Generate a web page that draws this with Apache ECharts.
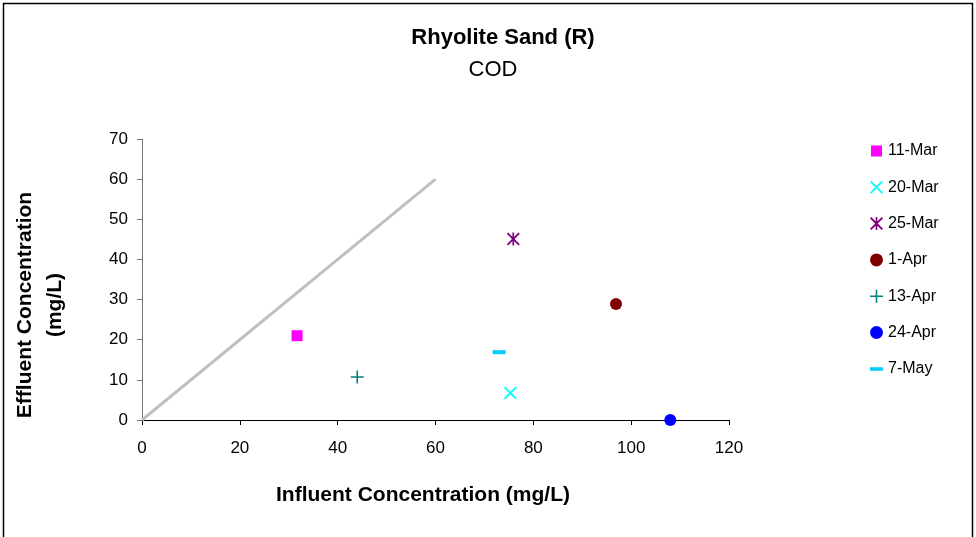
<!DOCTYPE html>
<html><head><meta charset="utf-8">
<script src="https://cdn.jsdelivr.net/npm/echarts@6/dist/echarts.min.js"></script>
<style>html,body{margin:0;padding:0;background:#fff}#c{width:976px;height:537px}</style>
</head><body><div id="c"></div>
<script>
const seriesNames = ['11-Mar','20-Mar','25-Mar','1-Apr','13-Apr','24-Apr','7-May'];
const influent = [31.7, 75.3, 75.9, 96.9, 44.0, 108.0, 73.0];
const effluent = [21.0, 6.7, 45.1, 28.9, 10.7, 0.0, 16.9];
const refLineX = [0, 60];
const refLineY = [0, 60];
const xTicks = [0,20,40,60,80,100,120];
const yTicks = [0,10,20,30,40,50,60,70];

const FONT = '"Liberation Sans", Arial, sans-serif';
const P_X = 'path://M0,1L1,0L5,4L9,0L10,1L6,5L10,9L9,10L5,6L1,10L0,9L4,5Z';
const P_AST = 'path://M0,1L1,0L5,4L9,0L10,1L6,5L10,9L9,10L5,6L1,10L0,9L4,5ZM4.35,0H5.65V10H4.35Z';
const P_PLUS = 'path://M4.4,0H5.6V4.4H10V5.6H5.6V10H4.4V5.6H0V4.4H4.4Z';
const P_SQ = 'path://M0,0L0,0ZM1,1H12V12H1ZM13,13L13,13Z';
const P_DASH = 'path://M0,0L0,0ZM0,5H13V8.5H0ZM13,13L13,13Z';
const styles = [
  {symbol:'rect', size:11, icon:P_SQ, color:'#FF00FF'},
  {symbol:P_X, size:13, icon:P_X, color:'#00FFFF'},
  {symbol:P_AST, size:13, icon:P_AST, color:'#800080'},
  {symbol:'circle', size:12, icon:'circle', color:'#800000'},
  {symbol:P_PLUS, size:13, icon:P_PLUS, color:'#008080'},
  {symbol:'circle', size:12, icon:'circle', color:'#0000FF'},
  {symbol:'rect', size:[13,4], icon:P_DASH, color:'#00CCFF'}
];

const series = [{
  type:'line', name:'ref', data: refLineX.map((x,i)=>[x, refLineY[i]]),
  symbol:'none', lineStyle:{color:'#C0C0C0', width:3}, silent:true, z:1
}];
seriesNames.forEach((n,i)=>{
  series.push({type:'scatter', name:n, data:[[influent[i], effluent[i]]],
    symbol: styles[i].symbol, symbolSize: styles[i].size,
    itemStyle:{color: styles[i].color, opacity:1}, z:3});
});

const chart = echarts.init(document.getElementById('c'));
chart.setOption({
  animation:false,
  backgroundColor:'#fff',
  grid:{left:142, right:247, top:139, bottom:117},
  xAxis:{type:'value', min:0, max:120, interval:20,
    axisLine:{lineStyle:{color:'#000', width:1}},
    axisTick:{show:true, length:5, lineStyle:{color:'#000'}},
    splitLine:{show:false},
    axisLabel:{color:'#000', fontSize:17, fontFamily:FONT, margin:20}},
  yAxis:{type:'value', min:0, max:70, interval:10,
    axisLine:{show:true, lineStyle:{color:'#777', width:1}},
    axisTick:{show:true, length:5, lineStyle:{color:'#777'}},
    splitLine:{show:false},
    axisLabel:{color:'#000', fontSize:17, fontFamily:FONT, margin:14}},
  legend:{orient:'vertical', left:870, top:143, padding:0, itemWidth:13, itemHeight:13, itemGap:20.3, itemTextGap:4,
    data: seriesNames.map((n,i)=>({name:n, icon:styles[i].icon})),
    textStyle:{color:'#000', fontSize:16, fontFamily:FONT}, itemStyle:{opacity:1}},
  graphic:[
    {type:'rect', shape:{x:3.5, y:3.5, width:969, height:600}, style:{fill:'none', stroke:'#000', lineWidth:1.5}, z:-1},
    {type:'text', x:503, y:38, style:{text:'Rhyolite Sand (R)', font:'bold 22px '+FONT, fill:'#000', textAlign:'center', textVerticalAlign:'middle'}},
    {type:'text', x:493, y:70, style:{text:'COD', font:'22px '+FONT, fill:'#000', textAlign:'center', textVerticalAlign:'middle'}},
    {type:'text', x:423, y:495, style:{text:'Influent Concentration (mg/L)', font:'bold 21px '+FONT, fill:'#000', textAlign:'center', textVerticalAlign:'middle'}},
    {type:'text', x:25, y:305, rotation:Math.PI/2, style:{text:'Effluent Concentration', font:'bold 21px '+FONT, fill:'#000', textAlign:'center', textVerticalAlign:'middle'}},
    {type:'text', x:55, y:305, rotation:Math.PI/2, style:{text:'(mg/L)', font:'bold 21px '+FONT, fill:'#000', textAlign:'center', textVerticalAlign:'middle'}}
  ],
  series: series
});
</script></body></html>
